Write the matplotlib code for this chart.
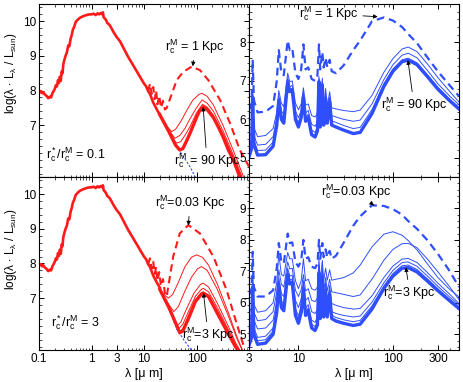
import numpy as np
import matplotlib
matplotlib.use("Agg")
from matplotlib import pyplot as plt
from matplotlib.ticker import FixedLocator, NullFormatter, LogLocator, MultipleLocator

plt.rcParams['font.family'] = ['Liberation Sans', 'DejaVu Sans']
plt.rcParams['mathtext.fontset'] = 'custom'
plt.rcParams['mathtext.rm'] = 'Liberation Sans'
plt.rcParams['mathtext.it'] = 'Liberation Sans'

RED = '#ff1a1a'
BLUE = '#2f4fff'

# ---- stellar part (left panels), lambda in micron, log(lambda L_lambda / L_sun)
star_lam = [0.1, 0.105, 0.11, 0.115, 0.12, 0.13, 0.14, 0.15, 0.16, 0.17, 0.18, 0.19, 0.2, 0.21, 0.22,
            0.23, 0.24, 0.25, 0.26, 0.27, 0.28, 0.29, 0.3, 0.32, 0.34, 0.36, 0.38, 0.4, 0.42, 0.44,
            0.47, 0.5, 0.55, 0.6, 0.7, 0.8, 0.9, 1.0, 1.1, 1.2, 1.3, 1.4, 1.5, 1.6, 1.65,
            1.7, 1.8, 1.9, 2.0, 2.2, 2.4, 2.6, 3.0, 3.5, 4.0, 5.0, 6.5, 8.0, 10, 11,
            12, 13, 15, 18, 20]
star_val = [8.0, 7.95, 7.98, 7.92, 7.95, 7.88, 7.84, 7.78, 7.82, 7.8, 7.92, 7.98, 8.05, 8.15, 8.12,
            8.3, 8.22, 8.4, 8.28, 8.55, 8.5, 8.75, 8.85, 9.0, 9.1, 9.3, 9.28, 9.5, 9.6, 9.75,
            9.85, 9.98, 10.05, 10.1, 10.15, 10.18, 10.2, 10.2, 10.22, 10.18, 10.23, 10.2, 10.24, 10.2, 10.26,
            10.12, 10.08, 10.03, 9.95, 9.9, 9.8, 9.7, 9.55, 9.42, 9.25, 8.97, 8.68, 8.45, 8.2, 8.12,
            7.98, 7.9, 7.65, 7.42, 7.3]

# stellar continuation (blue dashed) under the red curves
top_star_lam = [20, 30, 48, 75, 95]
top_star_val = [7.3, 6.8, 6.25, 5.8, 5.5]
bot_star_lam = [20, 30, 42, 60, 80]
bot_star_val = [7.25, 6.7, 6.1, 5.75, 5.5]

# ---- left top panel tails (r_c*/r_c^M = 0.1)
tl_thick_lam = [20, 30, 40, 48, 55, 65, 75, 90, 100, 115, 134, 160, 210, 260, 323, 400, 508, 670]
tl_thick_val = [7.3, 6.8, 6.42, 6.28, 6.32, 6.55, 6.76, 7.05, 7.22, 7.42, 7.53, 7.45, 7.22, 6.95, 6.65, 6.3, 5.98, 5.5]
tl_thin_lam = [
    [20, 28, 33.5, 40, 50, 65, 85, 110, 126, 160, 210, 323, 508, 780],
    [20, 30, 38.8, 48, 60, 75, 100, 128, 160, 210, 323, 508, 730],
    [20, 30, 38, 42, 50, 60, 75, 100, 130, 160, 210, 323, 508, 700],
]
tl_thin_val = [
    [7.3, 6.95, 6.81, 6.88, 7.1, 7.42, 7.72, 7.88, 7.92, 7.83, 7.58, 6.98, 6.25, 5.52],
    [7.3, 6.85, 6.62, 6.7, 6.9, 7.18, 7.5, 7.73, 7.63, 7.4, 6.82, 6.12, 5.52],
    [7.3, 6.82, 6.55, 6.48, 6.52, 6.7, 6.95, 7.35, 7.6, 7.52, 7.28, 6.72, 6.05, 5.52],
]
tl_dash_lam = [12, 13, 14, 15, 16, 17, 18, 19.5, 21, 23, 25, 27, 32, 42, 56, 81, 116, 168, 280, 437, 670, 1000]
tl_dash_val = [7.98, 8.2, 7.9, 8.1, 7.75, 8.0, 7.6, 7.85, 7.5, 7.7, 7.45, 7.49, 7.8, 8.3, 8.54, 8.69, 8.59, 8.3,
               7.73, 7.05, 6.28, 5.8]

# ---- left bottom panel tails (r_c*/r_c^M = 3)
bl_thick_lam = [20, 30, 40, 48, 55, 70, 95, 125, 135, 170, 250, 400, 550, 650]
bl_thick_val = [7.25, 6.72, 6.28, 6.0, 6.05, 6.4, 6.9, 7.12, 7.14, 7.04, 6.56, 5.98, 5.6, 5.45]
bl_thin_lam = [
    [20, 25, 29, 35, 45, 60, 80, 100, 130, 170, 250, 400, 600, 750],
    [20, 30, 37, 45, 60, 80, 105, 125, 160, 250, 400, 600, 740],
    [20, 30, 42, 50, 65, 90, 120, 135, 170, 250, 400, 560, 680],
    [20, 30, 45, 55, 70, 95, 125, 135, 170, 250, 400, 560, 670],
    [20, 30, 47, 55, 70, 95, 125, 135, 170, 250, 400, 560, 660],
]
bl_thin_val = [
    [7.25, 7.08, 7.0, 7.1, 7.45, 7.9, 8.18, 8.25, 8.18, 7.95, 7.4, 6.6, 5.85, 5.5],
    [7.25, 6.8, 6.61, 6.75, 7.2, 7.6, 7.85, 7.91, 7.8, 7.25, 6.5, 5.8, 5.5],
    [7.25, 6.75, 6.2, 6.3, 6.7, 7.15, 7.4, 7.43, 7.32, 6.85, 6.2, 5.7, 5.48],
    [7.25, 6.72, 6.1, 6.25, 6.6, 7.05, 7.26, 7.28, 7.18, 6.72, 6.1, 5.64, 5.47],
    [7.25, 6.72, 6.02, 6.12, 6.48, 6.95, 7.16, 7.18, 7.09, 6.63, 6.04, 5.6, 5.46],
]
bl_dash_lam = [12, 13, 14, 15, 16, 17, 18, 19.5, 21, 23, 25, 27, 31, 36, 48, 70, 116, 210, 375, 580, 800]
bl_dash_val = [7.98, 8.15, 7.85, 8.05, 7.7, 7.9, 7.5, 7.75, 7.35, 7.55, 7.15, 7.04, 7.6, 8.2, 8.87, 9.11, 8.87,
               8.2, 7.23, 6.27, 5.6]

# ---- dust emission (right panels), common wavelength grid
lam_d = [3.0, 3.2, 3.28, 3.38, 3.7, 4.5, 5.4, 5.9, 6.2, 6.6, 7.0, 7.7, 8.1, 8.6, 9.3, 10.0, 10.7, 11.3,
         11.9, 12.7, 13.8, 15.0, 15.9, 16.5, 17.0, 17.9, 18.5, 19.4, 20.2, 21.4, 22.5, 25, 30, 38, 45,
         60, 80, 100, 125, 145, 180, 230, 300, 400, 500]

top_thick = [5.02, 5.25, 6.58, 5.35, 5.07, 5.08, 5.30, 5.85, 6.50, 6.00, 5.90, 6.97, 6.72, 6.76, 6.00,
             5.80, 6.05, 6.58, 5.95, 6.05, 5.60, 5.54, 5.70, 6.98, 5.80, 6.90, 5.85, 6.55, 5.90, 6.45,
             5.85, 5.80, 5.72, 5.63, 5.66, 6.15, 6.85, 7.25, 7.50, 7.54, 7.42, 7.12, 6.78, 6.48, 6.27]
top_thin = [
    [5.50, 5.68, 6.78, 5.78, 5.55, 5.58, 5.76, 6.18, 6.75, 6.42, 6.33, 7.20, 6.98, 7.00, 6.42,
     6.25, 6.40, 6.82, 6.37, 6.40, 6.10, 6.06, 6.16, 7.12, 6.25, 7.07, 6.28, 6.80, 6.32, 6.72,
     6.30, 6.27, 6.23, 6.20, 6.24, 6.62, 7.22, 7.58, 7.83, 7.88, 7.76, 7.45, 7.08, 6.72, 6.45],
    [5.28, 5.48, 6.67, 5.58, 5.33, 5.35, 5.55, 6.02, 6.62, 6.22, 6.13, 7.08, 6.85, 6.88, 6.22,
     6.04, 6.23, 6.70, 6.17, 6.23, 5.87, 5.82, 5.94, 7.06, 6.03, 6.99, 6.08, 6.67, 6.12, 6.58,
     6.10, 6.06, 6.00, 5.95, 5.98, 6.40, 7.03, 7.42, 7.67, 7.72, 7.60, 7.28, 6.92, 6.60, 6.38],
    [5.15, 5.36, 6.62, 5.46, 5.19, 5.20, 5.41, 5.93, 6.55, 6.10, 6.00, 7.02, 6.78, 6.81, 6.10,
     5.91, 6.13, 6.63, 6.05, 6.13, 5.72, 5.66, 5.80, 7.02, 5.90, 6.94, 5.95, 6.60, 6.00, 6.50,
     5.96, 5.92, 5.84, 5.76, 5.79, 6.25, 6.92, 7.31, 7.55, 7.59, 7.47, 7.17, 6.83, 6.52, 6.31],
]
top_dash = [6.25, 6.40, 7.55, 6.50, 6.18, 6.20, 6.35, 7.00, 7.80, 7.20, 7.15, 8.05, 7.80, 7.85, 7.20,
            7.05, 7.30, 7.95, 7.30, 7.35, 7.05, 7.00, 7.15, 7.95, 7.30, 7.75, 7.35, 7.60, 7.35, 7.55,
            7.25, 7.20, 7.40, 7.80, 8.05, 8.55, 8.65, 8.57, 8.40, 8.22, 7.98, 7.62, 7.24, 6.88, 6.60]

bot_thick = [4.65, 4.90, 6.50, 5.00, 4.68, 4.72, 5.00, 5.70, 6.58, 5.85, 5.75, 6.90, 6.60, 6.65, 5.60,
             5.35, 5.70, 6.45, 5.60, 5.75, 5.20, 5.12, 5.30, 6.95, 5.50, 6.80, 5.55, 6.40, 5.55, 6.30,
             5.50, 5.42, 5.35, 5.28, 5.32, 5.80, 6.45, 6.85, 7.10, 7.12, 6.98, 6.70, 6.38, 6.06, 5.82]
bot_thin = [
    [5.66, 5.85, 6.95, 5.95, 5.70, 5.75, 6.00, 6.65, 7.55, 6.90, 6.85, 7.60, 7.40, 7.40, 6.70,
     6.45, 6.70, 7.40, 6.70, 6.75, 6.45, 6.40, 6.50, 7.40, 6.68, 7.35, 6.70, 7.10, 6.72, 7.05,
     6.72, 6.75, 6.80, 6.95, 7.20, 7.78, 8.18, 8.26, 8.15, 7.98, 7.68, 7.25, 6.80, 6.42, 6.19],
    [5.39, 5.60, 6.80, 5.70, 5.43, 5.47, 5.72, 6.35, 7.05, 6.60, 6.50, 7.30, 7.08, 7.10, 6.40,
     6.20, 6.42, 6.90, 6.38, 6.45, 6.08, 6.04, 6.15, 7.20, 6.32, 7.12, 6.35, 6.80, 6.38, 6.75,
     6.35, 6.32, 6.27, 6.20, 6.25, 6.75, 7.35, 7.70, 7.88, 7.89, 7.75, 7.40, 6.98, 6.50, 6.10],
    [5.13, 5.35, 6.65, 5.45, 5.17, 5.20, 5.45, 6.05, 6.80, 6.30, 6.20, 7.10, 6.85, 6.88, 6.08,
     5.85, 6.12, 6.70, 6.07, 6.17, 5.72, 5.66, 5.80, 7.08, 5.98, 6.97, 6.02, 6.62, 6.02, 6.55,
     5.98, 5.92, 5.85, 5.80, 5.82, 6.22, 6.80, 7.17, 7.39, 7.41, 7.28, 6.97, 6.62, 6.27, 5.98],
    [4.86, 5.10, 6.56, 5.20, 4.90, 4.94, 5.20, 5.85, 6.67, 6.05, 5.96, 6.99, 6.72, 6.76, 5.82,
     5.58, 5.89, 6.56, 5.82, 5.94, 5.45, 5.38, 5.54, 7.01, 5.72, 6.88, 5.76, 6.50, 5.76, 6.42,
     5.72, 5.66, 5.60, 5.55, 5.58, 6.02, 6.63, 7.03, 7.28, 7.30, 7.16, 6.86, 6.52, 6.18, 5.93],
    [4.76, 5.00, 6.53, 5.10, 4.79, 4.83, 5.10, 5.77, 6.62, 5.95, 5.85, 6.94, 6.66, 6.70, 5.70,
     5.46, 5.79, 6.50, 5.70, 5.84, 5.32, 5.24, 5.41, 6.98, 5.60, 6.84, 5.65, 6.45, 5.65, 6.36,
     5.61, 5.53, 5.46, 5.40, 5.44, 5.90, 6.53, 6.93, 7.18, 7.20, 7.06, 6.77, 6.44, 6.11, 5.87],
]
bot_dash = [6.24, 6.45, 7.62, 6.50, 6.20, 6.20, 6.40, 7.10, 7.90, 7.30, 7.25, 8.20, 7.90, 7.92, 7.30,
            7.15, 7.35, 8.00, 7.40, 7.45, 7.15, 7.10, 7.25, 8.00, 7.40, 7.90, 7.45, 7.70, 7.45, 7.65,
            7.40, 7.50, 7.90, 8.45, 8.75, 9.10, 9.08, 8.98, 8.80, 8.60, 8.35, 8.00, 7.55, 7.00, 6.50]

fig = plt.figure(figsize=(4.63, 3.82), dpi=100)
W, H = 210 / 463, 173 / 382
x_l, x_r = 39 / 463, 249 / 463
y_t, y_b = 1 - 177 / 382, 1 - 350 / 382
ax_tl = fig.add_axes([x_l, y_t, W, H])
ax_bl = fig.add_axes([x_l, y_b, W, H])
ax_tr = fig.add_axes([x_r, y_t, W, H])
ax_br = fig.add_axes([x_r, y_b, W, H])

DASH = (0, (3.5, 2.2))


def style(ax, xlim, ylim, xticks, yticks, show_x):
    ax.set_xscale('log')
    ax.set_xlim(*xlim)
    ax.set_ylim(*ylim)
    ax.xaxis.set_major_locator(FixedLocator(xticks))
    ax.xaxis.set_minor_locator(LogLocator(base=10, subs=np.arange(2, 10)))
    ax.xaxis.set_minor_formatter(NullFormatter())
    ax.yaxis.set_major_locator(FixedLocator(yticks))
    ax.yaxis.set_minor_locator(MultipleLocator(0.2))
    if show_x:
        ax.set_xticklabels([('%g' % t) for t in xticks])
        ax.set_xlabel('λ [μ m]', fontsize=9, labelpad=2)
    else:
        ax.set_xticklabels([])
    ax.set_yticklabels([('%g' % t) for t in yticks])
    ax.tick_params(which='both', direction='in', top=True, right=True, labelsize=8.5, pad=2)
    ax.tick_params(which='major', length=3.5, width=0.7)
    ax.tick_params(which='minor', length=1.8, width=0.5)
    for s in ax.spines.values():
        s.set_linewidth(0.8)


def left_panel(ax, star_l, star_v, thin_l, thin_v, thick_l, thick_v, dash_l, dash_v):
    ax.plot(star_l, star_v, color=BLUE, lw=0.8, ls=(0, (2, 1.5)))
    ax.plot(star_lam, star_val, color=RED, lw=1.9)
    for l, v in zip(thin_l, thin_v):
        ax.plot(l, v, color=RED, lw=0.7)
    ax.plot(thick_l, thick_v, color=RED, lw=2.4)
    ax.plot(dash_l, dash_v, color=RED, lw=1.5, ls=DASH)


def right_panel(ax, thin, thick, dash):
    for v in thin:
        ax.plot(lam_d, v, color=BLUE, lw=0.7)
    ax.plot(lam_d, thick, color=BLUE, lw=2.4)
    ax.plot(lam_d, dash, color=BLUE, lw=1.6, ls=DASH)


left_panel(ax_tl, top_star_lam, top_star_val, tl_thin_lam, tl_thin_val,
           tl_thick_lam, tl_thick_val, tl_dash_lam, tl_dash_val)
left_panel(ax_bl, bot_star_lam, bot_star_val, bl_thin_lam, bl_thin_val,
           bl_thick_lam, bl_thick_val, bl_dash_lam, bl_dash_val)
right_panel(ax_tr, top_thin, top_thick, top_dash)
right_panel(ax_br, bot_thin, bot_thick, bot_dash)

style(ax_tl, (0.1, 1000), (5.5, 10.5), [0.1, 1, 3, 10, 100], [7, 8, 9, 10], False)
style(ax_bl, (0.1, 1000), (5.5, 10.5), [0.1, 1, 3, 10, 100], [7, 8, 9, 10], True)
style(ax_tr, (3, 500), (4.5, 9.0), [3, 10, 100, 300], [5, 6, 7, 8], False)
style(ax_br, (3, 500), (4.5, 10.0), [3, 10, 100, 300], [5, 6, 7, 8, 9], True)

ylab = r'log(λ $\cdot$ L$_{λ}$ / L$_{sun}$)'
for ax, yc in ((ax_tl, 0.6), (ax_bl, 0.58)):
    ax.set_ylabel(ylab, fontsize=8.5)
    ax.yaxis.set_label_coords(-0.095, yc)

arr = dict(arrowstyle='-|>', color='k', lw=0.6, mutation_scale=6, shrinkA=1, shrinkB=0)
fs = 9


def note(ax, txt, xy, xytext):
    ax.annotate(txt, xy=xy, xytext=xytext, fontsize=fs, ha='center', va='center',
                arrowprops=arr)


note(ax_tl, r'r$_c^M$ = 1 Kpc', (85, 8.7), (94, 9.26))
note(ax_tl, r'r$_c^M$ = 90 Kpc', (134, 7.53), (158, 5.96))
ax_tl.text(0.51, 6.16, r'r$_c^*$/r$_c^M$ = 0.1', fontsize=fs, ha='center', va='center')

note(ax_tr, r'r$_c^M$ = 1 Kpc', (69, 8.67), (21, 8.74))
note(ax_tr, r'r$_c^M$ = 90 Kpc', (144, 7.54), (167, 6.37))

note(ax_bl, r'r$_c^M$=0.03 Kpc', (70, 9.1), (75, 9.75))
note(ax_bl, r'r$_c^M$=3 Kpc', (136, 7.15), (166, 5.93))
ax_bl.text(0.49, 6.28, r'r$_c^*$/r$_c^M$ = 3', fontsize=fs, ha='center', va='center')

note(ax_br, r'r$_c^M$=0.03 Kpc', (63, 9.1), (41, 9.52))
note(ax_br, r'r$_c^M$=3 Kpc', (137, 7.13), (151, 6.31))

fig.savefig('out.png', dpi=100)
